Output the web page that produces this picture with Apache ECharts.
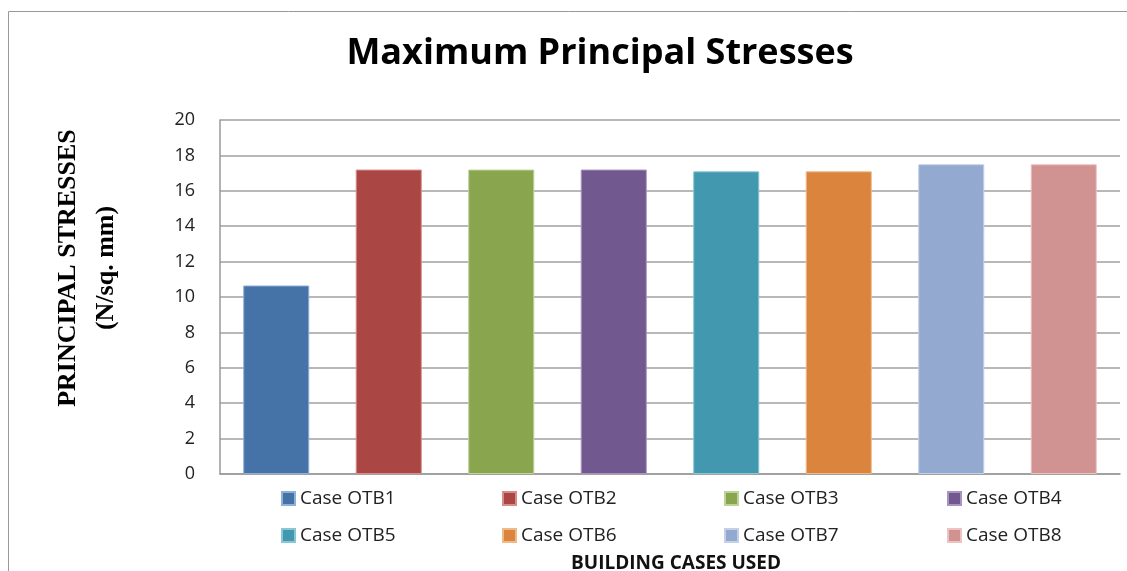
<!DOCTYPE html>
<html>
<head>
<meta charset="utf-8">
<script src="https://cdn.jsdelivr.net/npm/echarts@6/dist/echarts.min.js"></script>
<style>
  html, body { margin: 0; padding: 0; background: #fff; }
  #chart { width: 1127px; height: 571px; }
</style>
</head>
<body>
<div id="chart"></div>
<script>
var cases = ['Case OTB1', 'Case OTB2', 'Case OTB3', 'Case OTB4', 'Case OTB5', 'Case OTB6', 'Case OTB7', 'Case OTB8'];
var stresses = [10.65, 17.2, 17.2, 17.2, 17.1, 17.1, 17.5, 17.5];
var colors = ['#4572A7', '#AA4643', '#89A54E', '#71588F', '#4198AF', '#DB843D', '#93A9CF', '#D19392'];
var borders = ['#8fb0d8', '#d88d8a', '#bcd49a', '#a893c2', '#8ac6d6', '#f0b98a', '#c3d0e8', '#ecc3c2'];
var yTitle = ['PRINCIPAL STRESSES', '(N/sq. mm)'];

var chartDom = document.getElementById('chart');
var myChart = echarts.init(chartDom);

// one series per case, only filled at its own slot, stacked so bars stay centred
var series = cases.map(function (name, i) {
  return {
    name: name,
    type: 'bar',
    stack: 'all',
    barWidth: '58.7%',
    itemStyle: { color: colors[i], borderColor: borders[i], borderWidth: 1 },
    data: cases.map(function (c, j) { return j === i ? stresses[i] : '-'; })
  };
});

// legend laid out as 4 columns x 2 rows, one legend per entry
var legendCols = [276, 497, 719, 942];
var legendRows = [484, 521];
var legends = cases.map(function (name, i) {
  return {
    data: [name],
    left: legendCols[i % 4],
    top: legendRows[Math.floor(i / 4)],
    itemWidth: 13,
    itemHeight: 13,
    icon: 'rect',
    textStyle: { fontFamily: 'Open Sans', fontSize: 19, color: '#222' }
  };
});

// y axis title sits a bit above the plot centre, so draw it as rotated text
var yTitleX = [68, 106];
var titleGraphics = yTitle.map(function (t, i) {
  return {
    type: 'text',
    x: yTitleX[i],
    y: 268,
    rotation: Math.PI / 2,
    style: {
      text: t,
      align: 'center',
      verticalAlign: 'middle',
      font: 'bold 26px "Liberation Serif"',
      fill: '#000'
    }
  };
});

var option = {
  animation: false,
  title: {
    text: 'Maximum Principal Stresses',
    left: 595,
    top: 31,
    textAlign: 'center',
    textStyle: { fontFamily: 'Open Sans', fontWeight: 'bold', fontSize: 36, color: '#000' }
  },
  graphic: [{
    type: 'rect',
    shape: { x: 8.5, y: 11.5, width: 1200, height: 700 },
    style: { fill: 'none', stroke: '#999', lineWidth: 1 }
  }].concat(titleGraphics),
  legend: legends,
  grid: { left: 220, right: 7, top: 120, bottom: 97, outerBoundsMode: 'none' },
  xAxis: {
    type: 'category',
    data: cases,
    name: 'BUILDING CASES USED',
    nameLocation: 'middle',
    nameGap: 80,
    nameTextStyle: { fontFamily: 'Open Sans', fontWeight: 'bold', fontSize: 19, color: '#111', padding: [0, 0, 0, 12] },
    axisLine: { lineStyle: { color: '#999', width: 1.5 } },
    axisTick: { show: false },
    axisLabel: { show: false }
  },
  yAxis: {
    type: 'value',
    min: 0,
    max: 20,
    interval: 2,
    axisLine: { show: true, lineStyle: { color: '#999', width: 1.5 } },
    axisTick: { show: false },
    axisLabel: { margin: 25, fontFamily: 'Open Sans', fontSize: 18, color: '#222' },
    splitLine: { lineStyle: { color: '#a0a0a0', width: 1.5 } }
  },
  series: series
};

option && myChart.setOption(option);
</script>
</body>
</html>
